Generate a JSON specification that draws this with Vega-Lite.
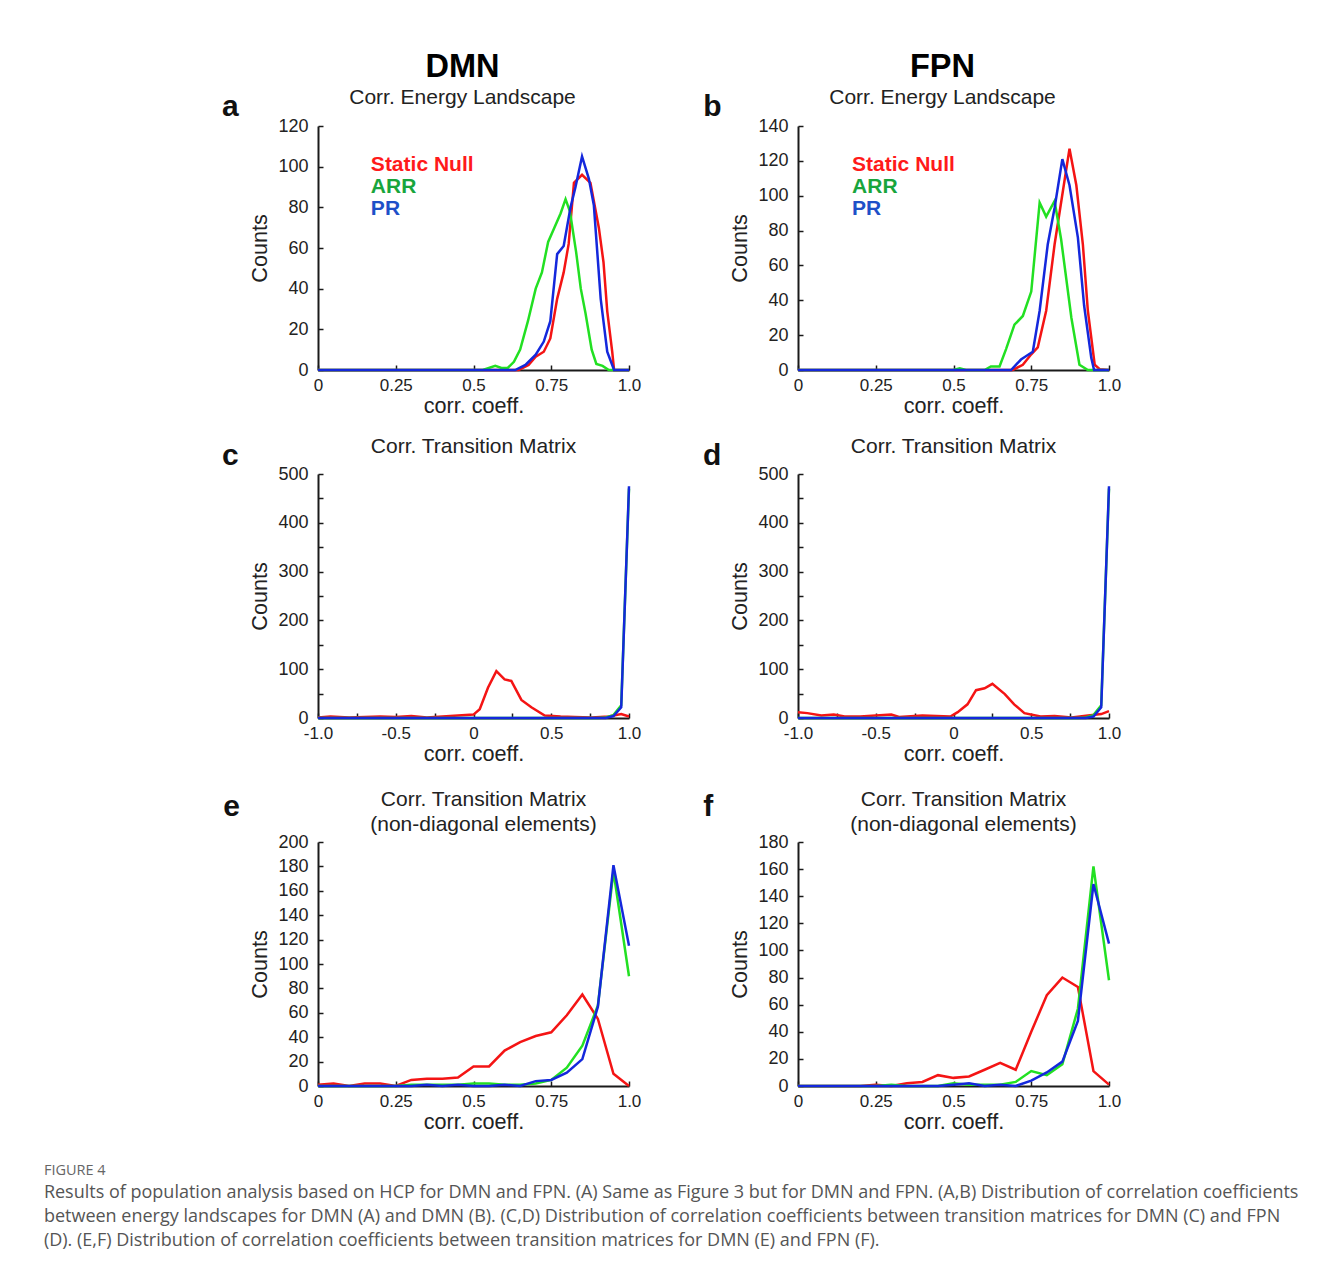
{
  "$schema": "https://vega.github.io/schema/vega-lite/v6.json",
  "background": "white",
  "padding": {"left": 43, "top": 50, "right": 5, "bottom": 5},
  "datasets": {
    "a": [
      {"coef":0,"count":0,"series":"Static Null"},{"coef":0.645,"count":0,"series":"Static Null"},{"coef":0.677,"count":2.5,"series":"Static Null"},{"coef":0.7,"count":6.5,"series":"Static Null"},{"coef":0.726,"count":9,"series":"Static Null"},{"coef":0.747,"count":15.5,"series":"Static Null"},{"coef":0.769,"count":35,"series":"Static Null"},{"coef":0.79,"count":48,"series":"Static Null"},{"coef":0.806,"count":62,"series":"Static Null"},{"coef":0.823,"count":92,"series":"Static Null"},{"coef":0.849,"count":96,"series":"Static Null"},{"coef":0.876,"count":92,"series":"Static Null"},{"coef":0.903,"count":70,"series":"Static Null"},{"coef":0.918,"count":53,"series":"Static Null"},{"coef":0.93,"count":29,"series":"Static Null"},{"coef":0.946,"count":9,"series":"Static Null"},{"coef":0.952,"count":0,"series":"Static Null"},{"coef":1,"count":0,"series":"Static Null"},
      {"coef":0,"count":0,"series":"ARR"},{"coef":0.53,"count":0,"series":"ARR"},{"coef":0.57,"count":2,"series":"ARR"},{"coef":0.59,"count":1,"series":"ARR"},{"coef":0.61,"count":1,"series":"ARR"},{"coef":0.63,"count":4,"series":"ARR"},{"coef":0.65,"count":10,"series":"ARR"},{"coef":0.675,"count":24,"series":"ARR"},{"coef":0.7,"count":40,"series":"ARR"},{"coef":0.72,"count":48,"series":"ARR"},{"coef":0.74,"count":63,"series":"ARR"},{"coef":0.76,"count":70,"series":"ARR"},{"coef":0.78,"count":77,"series":"ARR"},{"coef":0.796,"count":84,"series":"ARR"},{"coef":0.81,"count":78,"series":"ARR"},{"coef":0.83,"count":58,"series":"ARR"},{"coef":0.845,"count":40,"series":"ARR"},{"coef":0.86,"count":28,"series":"ARR"},{"coef":0.88,"count":10,"series":"ARR"},{"coef":0.895,"count":3,"series":"ARR"},{"coef":0.915,"count":2,"series":"ARR"},{"coef":0.935,"count":0,"series":"ARR"},{"coef":1,"count":0,"series":"ARR"},
      {"coef":0,"count":0,"series":"PR"},{"coef":0.634,"count":0,"series":"PR"},{"coef":0.667,"count":2.5,"series":"PR"},{"coef":0.7,"count":7.5,"series":"PR"},{"coef":0.726,"count":14,"series":"PR"},{"coef":0.747,"count":24,"series":"PR"},{"coef":0.769,"count":57,"series":"PR"},{"coef":0.79,"count":61,"series":"PR"},{"coef":0.812,"count":80,"series":"PR"},{"coef":0.828,"count":90,"series":"PR"},{"coef":0.849,"count":105,"series":"PR"},{"coef":0.871,"count":94,"series":"PR"},{"coef":0.887,"count":81,"series":"PR"},{"coef":0.909,"count":35,"series":"PR"},{"coef":0.93,"count":9,"series":"PR"},{"coef":0.952,"count":0,"series":"PR"},{"coef":1,"count":0,"series":"PR"}
    ],
    "b": [
      {"coef":0,"count":0,"series":"Static Null"},{"coef":0.69,"count":0,"series":"Static Null"},{"coef":0.723,"count":3,"series":"Static Null"},{"coef":0.75,"count":9,"series":"Static Null"},{"coef":0.771,"count":13,"series":"Static Null"},{"coef":0.798,"count":34,"series":"Static Null"},{"coef":0.825,"count":72,"series":"Static Null"},{"coef":0.852,"count":103,"series":"Static Null"},{"coef":0.873,"count":127,"series":"Static Null"},{"coef":0.895,"count":106,"series":"Static Null"},{"coef":0.916,"count":72,"series":"Static Null"},{"coef":0.932,"count":34,"series":"Static Null"},{"coef":0.954,"count":3,"series":"Static Null"},{"coef":0.97,"count":0.5,"series":"Static Null"},{"coef":1,"count":0,"series":"Static Null"},
      {"coef":0,"count":0,"series":"ARR"},{"coef":0.5,"count":0,"series":"ARR"},{"coef":0.52,"count":1,"series":"ARR"},{"coef":0.54,"count":0,"series":"ARR"},{"coef":0.6,"count":0,"series":"ARR"},{"coef":0.62,"count":2,"series":"ARR"},{"coef":0.648,"count":2,"series":"ARR"},{"coef":0.669,"count":12,"series":"ARR"},{"coef":0.696,"count":26,"series":"ARR"},{"coef":0.723,"count":31,"series":"ARR"},{"coef":0.75,"count":45,"series":"ARR"},{"coef":0.777,"count":96,"series":"ARR"},{"coef":0.798,"count":88,"series":"ARR"},{"coef":0.825,"count":97,"series":"ARR"},{"coef":0.846,"count":75,"series":"ARR"},{"coef":0.879,"count":30,"series":"ARR"},{"coef":0.905,"count":3,"series":"ARR"},{"coef":0.932,"count":0,"series":"ARR"},{"coef":1,"count":0,"series":"ARR"},
      {"coef":0,"count":0,"series":"PR"},{"coef":0.685,"count":0,"series":"PR"},{"coef":0.717,"count":6,"series":"PR"},{"coef":0.734,"count":8,"series":"PR"},{"coef":0.755,"count":10.5,"series":"PR"},{"coef":0.777,"count":34,"series":"PR"},{"coef":0.803,"count":72,"series":"PR"},{"coef":0.825,"count":93,"series":"PR"},{"coef":0.85,"count":121,"series":"PR"},{"coef":0.873,"count":106,"series":"PR"},{"coef":0.9,"count":76,"series":"PR"},{"coef":0.92,"count":37,"series":"PR"},{"coef":0.943,"count":7,"series":"PR"},{"coef":0.952,"count":0,"series":"PR"},{"coef":1,"count":0,"series":"PR"}
    ],
    "c": [
      {"coef":-1,"count":1,"series":"Static Null"},{"coef":-0.92,"count":3,"series":"Static Null"},{"coef":-0.8,"count":1,"series":"Static Null"},{"coef":-0.6,"count":3,"series":"Static Null"},{"coef":-0.5,"count":2,"series":"Static Null"},{"coef":-0.4,"count":4,"series":"Static Null"},{"coef":-0.3,"count":1,"series":"Static Null"},{"coef":-0.2,"count":3,"series":"Static Null"},{"coef":-0.1,"count":5,"series":"Static Null"},{"coef":0,"count":7,"series":"Static Null"},{"coef":0.04,"count":18,"series":"Static Null"},{"coef":0.093,"count":62,"series":"Static Null"},{"coef":0.147,"count":96,"series":"Static Null"},{"coef":0.2,"count":79,"series":"Static Null"},{"coef":0.243,"count":76,"series":"Static Null"},{"coef":0.308,"count":37,"series":"Static Null"},{"coef":0.372,"count":22,"series":"Static Null"},{"coef":0.458,"count":5,"series":"Static Null"},{"coef":0.56,"count":3,"series":"Static Null"},{"coef":0.65,"count":2,"series":"Static Null"},{"coef":0.76,"count":1,"series":"Static Null"},{"coef":0.87,"count":3,"series":"Static Null"},{"coef":0.95,"count":8,"series":"Static Null"},{"coef":1,"count":3,"series":"Static Null"},
      {"coef":-1,"count":0,"series":"ARR"},{"coef":0.8,"count":0,"series":"ARR"},{"coef":0.85,"count":1,"series":"ARR"},{"coef":0.9,"count":6,"series":"ARR"},{"coef":0.95,"count":26,"series":"ARR"},{"coef":1,"count":470,"series":"ARR"},
      {"coef":-1,"count":0,"series":"PR"},{"coef":0.85,"count":0,"series":"PR"},{"coef":0.9,"count":4,"series":"PR"},{"coef":0.95,"count":22,"series":"PR"},{"coef":1,"count":475,"series":"PR"}
    ],
    "d": [
      {"coef":-1,"count":12,"series":"Static Null"},{"coef":-0.94,"count":10,"series":"Static Null"},{"coef":-0.85,"count":5,"series":"Static Null"},{"coef":-0.77,"count":7,"series":"Static Null"},{"coef":-0.7,"count":3,"series":"Static Null"},{"coef":-0.6,"count":3,"series":"Static Null"},{"coef":-0.4,"count":7,"series":"Static Null"},{"coef":-0.35,"count":2,"series":"Static Null"},{"coef":-0.2,"count":5,"series":"Static Null"},{"coef":-0.02,"count":3,"series":"Static Null"},{"coef":0.027,"count":12,"series":"Static Null"},{"coef":0.09,"count":28,"series":"Static Null"},{"coef":0.145,"count":57,"series":"Static Null"},{"coef":0.2,"count":61,"series":"Static Null"},{"coef":0.25,"count":70,"series":"Static Null"},{"coef":0.33,"count":49,"series":"Static Null"},{"coef":0.39,"count":28,"series":"Static Null"},{"coef":0.456,"count":10,"series":"Static Null"},{"coef":0.56,"count":3,"series":"Static Null"},{"coef":0.65,"count":4,"series":"Static Null"},{"coef":0.76,"count":1,"series":"Static Null"},{"coef":0.865,"count":5,"series":"Static Null"},{"coef":0.95,"count":8,"series":"Static Null"},{"coef":1,"count":14,"series":"Static Null"},
      {"coef":-1,"count":0,"series":"ARR"},{"coef":0.8,"count":0,"series":"ARR"},{"coef":0.85,"count":1,"series":"ARR"},{"coef":0.9,"count":6,"series":"ARR"},{"coef":0.95,"count":26,"series":"ARR"},{"coef":1,"count":470,"series":"ARR"},
      {"coef":-1,"count":0,"series":"PR"},{"coef":0.85,"count":0,"series":"PR"},{"coef":0.9,"count":3,"series":"PR"},{"coef":0.95,"count":22,"series":"PR"},{"coef":1,"count":475,"series":"PR"}
    ],
    "e": [
      {"coef":0,"count":1,"series":"Static Null"},{"coef":0.05,"count":2,"series":"Static Null"},{"coef":0.1,"count":0,"series":"Static Null"},{"coef":0.15,"count":2,"series":"Static Null"},{"coef":0.2,"count":2,"series":"Static Null"},{"coef":0.25,"count":0,"series":"Static Null"},{"coef":0.3,"count":5,"series":"Static Null"},{"coef":0.35,"count":6,"series":"Static Null"},{"coef":0.4,"count":6,"series":"Static Null"},{"coef":0.45,"count":7,"series":"Static Null"},{"coef":0.5,"count":16,"series":"Static Null"},{"coef":0.55,"count":16,"series":"Static Null"},{"coef":0.6,"count":29,"series":"Static Null"},{"coef":0.65,"count":36,"series":"Static Null"},{"coef":0.7,"count":41,"series":"Static Null"},{"coef":0.75,"count":44,"series":"Static Null"},{"coef":0.8,"count":58,"series":"Static Null"},{"coef":0.85,"count":75,"series":"Static Null"},{"coef":0.9,"count":55,"series":"Static Null"},{"coef":0.95,"count":10,"series":"Static Null"},{"coef":1,"count":0,"series":"Static Null"},
      {"coef":0,"count":0,"series":"ARR"},{"coef":0.05,"count":0,"series":"ARR"},{"coef":0.1,"count":0,"series":"ARR"},{"coef":0.15,"count":0,"series":"ARR"},{"coef":0.2,"count":0,"series":"ARR"},{"coef":0.25,"count":0,"series":"ARR"},{"coef":0.3,"count":1,"series":"ARR"},{"coef":0.35,"count":1,"series":"ARR"},{"coef":0.4,"count":1,"series":"ARR"},{"coef":0.45,"count":1,"series":"ARR"},{"coef":0.5,"count":2,"series":"ARR"},{"coef":0.55,"count":2,"series":"ARR"},{"coef":0.6,"count":1,"series":"ARR"},{"coef":0.65,"count":1,"series":"ARR"},{"coef":0.7,"count":2,"series":"ARR"},{"coef":0.75,"count":5,"series":"ARR"},{"coef":0.8,"count":15,"series":"ARR"},{"coef":0.85,"count":33,"series":"ARR"},{"coef":0.9,"count":66,"series":"ARR"},{"coef":0.95,"count":176,"series":"ARR"},{"coef":1,"count":90,"series":"ARR"},
      {"coef":0,"count":0,"series":"PR"},{"coef":0.05,"count":0,"series":"PR"},{"coef":0.1,"count":0,"series":"PR"},{"coef":0.15,"count":0,"series":"PR"},{"coef":0.2,"count":0,"series":"PR"},{"coef":0.25,"count":0,"series":"PR"},{"coef":0.3,"count":0,"series":"PR"},{"coef":0.35,"count":1,"series":"PR"},{"coef":0.4,"count":0,"series":"PR"},{"coef":0.45,"count":1,"series":"PR"},{"coef":0.5,"count":0,"series":"PR"},{"coef":0.55,"count":0,"series":"PR"},{"coef":0.6,"count":1,"series":"PR"},{"coef":0.65,"count":0,"series":"PR"},{"coef":0.7,"count":4,"series":"PR"},{"coef":0.75,"count":5,"series":"PR"},{"coef":0.8,"count":11,"series":"PR"},{"coef":0.85,"count":22,"series":"PR"},{"coef":0.9,"count":65,"series":"PR"},{"coef":0.95,"count":181,"series":"PR"},{"coef":1,"count":115,"series":"PR"}
    ],
    "f": [
      {"coef":0,"count":0,"series":"Static Null"},{"coef":0.05,"count":0,"series":"Static Null"},{"coef":0.1,"count":0,"series":"Static Null"},{"coef":0.15,"count":0,"series":"Static Null"},{"coef":0.2,"count":0,"series":"Static Null"},{"coef":0.25,"count":1,"series":"Static Null"},{"coef":0.3,"count":0,"series":"Static Null"},{"coef":0.35,"count":2,"series":"Static Null"},{"coef":0.4,"count":3,"series":"Static Null"},{"coef":0.45,"count":8,"series":"Static Null"},{"coef":0.5,"count":6,"series":"Static Null"},{"coef":0.55,"count":7,"series":"Static Null"},{"coef":0.6,"count":12,"series":"Static Null"},{"coef":0.65,"count":17,"series":"Static Null"},{"coef":0.7,"count":12,"series":"Static Null"},{"coef":0.75,"count":40,"series":"Static Null"},{"coef":0.8,"count":67,"series":"Static Null"},{"coef":0.85,"count":80,"series":"Static Null"},{"coef":0.9,"count":73,"series":"Static Null"},{"coef":0.95,"count":11,"series":"Static Null"},{"coef":1,"count":1,"series":"Static Null"},
      {"coef":0,"count":0,"series":"ARR"},{"coef":0.05,"count":0,"series":"ARR"},{"coef":0.1,"count":0,"series":"ARR"},{"coef":0.15,"count":0,"series":"ARR"},{"coef":0.2,"count":0,"series":"ARR"},{"coef":0.25,"count":0,"series":"ARR"},{"coef":0.3,"count":1,"series":"ARR"},{"coef":0.35,"count":0,"series":"ARR"},{"coef":0.4,"count":0,"series":"ARR"},{"coef":0.45,"count":0,"series":"ARR"},{"coef":0.5,"count":2,"series":"ARR"},{"coef":0.55,"count":1,"series":"ARR"},{"coef":0.6,"count":1,"series":"ARR"},{"coef":0.65,"count":1,"series":"ARR"},{"coef":0.7,"count":3,"series":"ARR"},{"coef":0.75,"count":11,"series":"ARR"},{"coef":0.8,"count":8,"series":"ARR"},{"coef":0.85,"count":16,"series":"ARR"},{"coef":0.9,"count":57,"series":"ARR"},{"coef":0.95,"count":162,"series":"ARR"},{"coef":1,"count":78,"series":"ARR"},
      {"coef":0,"count":0,"series":"PR"},{"coef":0.05,"count":0,"series":"PR"},{"coef":0.1,"count":0,"series":"PR"},{"coef":0.15,"count":0,"series":"PR"},{"coef":0.2,"count":0,"series":"PR"},{"coef":0.25,"count":0,"series":"PR"},{"coef":0.3,"count":0,"series":"PR"},{"coef":0.35,"count":0,"series":"PR"},{"coef":0.4,"count":0,"series":"PR"},{"coef":0.45,"count":0,"series":"PR"},{"coef":0.5,"count":1,"series":"PR"},{"coef":0.55,"count":2,"series":"PR"},{"coef":0.6,"count":0,"series":"PR"},{"coef":0.65,"count":1,"series":"PR"},{"coef":0.7,"count":0,"series":"PR"},{"coef":0.75,"count":4,"series":"PR"},{"coef":0.8,"count":10,"series":"PR"},{"coef":0.85,"count":18,"series":"PR"},{"coef":0.9,"count":48,"series":"PR"},{"coef":0.95,"count":149,"series":"PR"},{"coef":1,"count":105,"series":"PR"}
    ]
  },
  "title": {
    "text": "FIGURE 4",
    "subtitle": [
      "Results of population analysis based on HCP for DMN and FPN. (A) Same as Figure 3 but for DMN and FPN. (A,B) Distribution of correlation coefficients",
      "between energy landscapes for DMN (A) and DMN (B). (C,D) Distribution of correlation coefficients between transition matrices for DMN (C) and FPN",
      "(D). (E,F) Distribution of correlation coefficients between transition matrices for DMN (E) and FPN (F)."
    ],
    "orient": "bottom",
    "anchor": "start",
    "frame": "bounds",
    "dx": -178,
    "offset": 31,
    "font": "Open Sans",
    "fontSize": 14.5,
    "fontWeight": "normal",
    "color": "#666666",
    "subtitleFont": "Open Sans",
    "subtitleFontSize": 18,
    "subtitleColor": "#555555",
    "subtitleLineHeight": 24,
    "subtitlePadding": 6
  },
  "vconcat": [
    {
      "hconcat": [
        {
          "width": 311, "height": 244,
          "title": {"text": "DMN", "subtitle": "Corr. Energy Landscape", "anchor": "middle", "frame": "group", "dx": -11, "offset": -16, "fontSize": 32.5, "fontWeight": "bold", "color": "#000000", "subtitleFontSize": 21, "subtitleColor": "#222222", "subtitlePadding": 4},
          "resolve": {"axis": {"x": "independent", "y": "independent"}},
          "layer": [
            {
              "data": {"name": "a"},
              "mark": {"type": "line", "strokeWidth": 2.5},
              "encoding": {
                "x": {"field": "coef", "type": "quantitative", "scale": {"domain": [0, 1], "nice": false}, "axis": {"title": "corr. coeff.", "values": [0, 0.25, 0.5, 0.75, 1], "labelOverlap": false, "labelExpr": "datum.value == 1 ? '1.0' : '' + datum.value"}},
                "y": {"field": "count", "type": "quantitative", "scale": {"domain": [0, 120], "nice": false}, "axis": {"title": "Counts", "labelOverlap": false, "values": [0, 20, 40, 60, 80, 100, 120]}},
                "color": {"field": "series", "type": "nominal", "scale": {"domain": ["Static Null", "ARR", "PR"], "range": ["#f41414", "#22e022", "#1428dc"]}, "legend": null}
              }
            },
            {"data": {"values": [{}]}, "mark": {"type": "text", "text": "a", "fontSize": 30, "fontWeight": "bold", "align": "left", "baseline": "alphabetic", "color": "#111111"}, "encoding": {"x": {"datum": -0.309, "type": "quantitative", "axis": null}, "y": {"datum": 124.9, "type": "quantitative", "axis": null}}},
            {"data": {"values": [{}]}, "mark": {"type": "text", "text": "Static Null", "fontSize": 21, "fontWeight": "bold", "align": "left", "baseline": "alphabetic", "color": "#ff1a1a"}, "encoding": {"x": {"datum": 0.17, "type": "quantitative", "axis": null}, "y": {"datum": 98, "type": "quantitative", "axis": null}}},
            {"data": {"values": [{}]}, "mark": {"type": "text", "text": "ARR", "fontSize": 21, "fontWeight": "bold", "align": "left", "baseline": "alphabetic", "color": "#18a53c"}, "encoding": {"x": {"datum": 0.17, "type": "quantitative", "axis": null}, "y": {"datum": 87.2, "type": "quantitative", "axis": null}}},
            {"data": {"values": [{}]}, "mark": {"type": "text", "text": "PR", "fontSize": 21, "fontWeight": "bold", "align": "left", "baseline": "alphabetic", "color": "#1e50c8"}, "encoding": {"x": {"datum": 0.17, "type": "quantitative", "axis": null}, "y": {"datum": 76.2, "type": "quantitative", "axis": null}}}
          ]
        },
        {
          "width": 311, "height": 244,
          "title": {"text": "FPN", "subtitle": "Corr. Energy Landscape", "anchor": "middle", "frame": "group", "dx": -11, "offset": -16, "fontSize": 32.5, "fontWeight": "bold", "color": "#000000", "subtitleFontSize": 21, "subtitleColor": "#222222", "subtitlePadding": 4},
          "resolve": {"axis": {"x": "independent", "y": "independent"}},
          "layer": [
            {
              "data": {"name": "b"},
              "mark": {"type": "line", "strokeWidth": 2.5},
              "encoding": {
                "x": {"field": "coef", "type": "quantitative", "scale": {"domain": [0, 1], "nice": false}, "axis": {"title": "corr. coeff.", "values": [0, 0.25, 0.5, 0.75, 1], "labelOverlap": false, "labelExpr": "datum.value == 1 ? '1.0' : '' + datum.value"}},
                "y": {"field": "count", "type": "quantitative", "scale": {"domain": [0, 140], "nice": false}, "axis": {"title": "Counts", "labelOverlap": false, "values": [0, 20, 40, 60, 80, 100, 120, 140]}},
                "color": {"field": "series", "type": "nominal", "scale": {"domain": ["Static Null", "ARR", "PR"], "range": ["#f41414", "#22e022", "#1428dc"]}, "legend": null}
              }
            },
            {"data": {"values": [{}]}, "mark": {"type": "text", "text": "b", "fontSize": 30, "fontWeight": "bold", "align": "left", "baseline": "alphabetic", "color": "#111111"}, "encoding": {"x": {"datum": -0.305, "type": "quantitative", "axis": null}, "y": {"datum": 145.7, "type": "quantitative", "axis": null}}},
            {"data": {"values": [{}]}, "mark": {"type": "text", "text": "Static Null", "fontSize": 21, "fontWeight": "bold", "align": "left", "baseline": "alphabetic", "color": "#ff1a1a"}, "encoding": {"x": {"datum": 0.174, "type": "quantitative", "axis": null}, "y": {"datum": 114.2, "type": "quantitative", "axis": null}}},
            {"data": {"values": [{}]}, "mark": {"type": "text", "text": "ARR", "fontSize": 21, "fontWeight": "bold", "align": "left", "baseline": "alphabetic", "color": "#18a53c"}, "encoding": {"x": {"datum": 0.174, "type": "quantitative", "axis": null}, "y": {"datum": 101.6, "type": "quantitative", "axis": null}}},
            {"data": {"values": [{}]}, "mark": {"type": "text", "text": "PR", "fontSize": 21, "fontWeight": "bold", "align": "left", "baseline": "alphabetic", "color": "#1e50c8"}, "encoding": {"x": {"datum": 0.174, "type": "quantitative", "axis": null}, "y": {"datum": 88.9, "type": "quantitative", "axis": null}}}
          ]
        }
      ],
      "spacing": 169,
      "bounds": "flush"
    },
    {
      "vconcat": [
        {
          "hconcat": [
            {
              "width": 311, "height": 244,
              "title": {"text": "Corr. Transition Matrix", "anchor": "middle", "frame": "group", "dx": 0, "offset": -16, "fontSize": 21, "fontWeight": "normal", "color": "#222222"},
              "resolve": {"axis": {"x": "independent", "y": "independent"}},
              "layer": [
                {
                  "data": {"name": "c"},
                  "mark": {"type": "line", "strokeWidth": 2.5},
                  "encoding": {
                    "x": {"field": "coef", "type": "quantitative", "scale": {"domain": [-1, 1], "nice": false}, "axis": {"title": "corr. coeff.", "labelOverlap": false, "values": [-1, -0.75, -0.5, -0.25, 0, 0.25, 0.5, 0.75, 1], "labelExpr": "datum.value == 1 ? '1.0' : datum.value == -1 ? '-1.0' : ((datum.value * 2) % 1 == 0 ? '' + datum.value : '')"}},
                    "y": {"field": "count", "type": "quantitative", "scale": {"domain": [0, 500], "nice": false}, "axis": {"title": "Counts", "labelOverlap": false, "values": [0, 50, 100, 150, 200, 250, 300, 350, 400, 450, 500], "labelExpr": "datum.value % 100 == 0 ? '' + datum.value : ''"}},
                    "color": {"field": "series", "type": "nominal", "scale": {"domain": ["Static Null", "ARR", "PR"], "range": ["#f41414", "#22e022", "#1428dc"]}, "legend": null}
                  }
                },
                {"data": {"values": [{}]}, "mark": {"type": "text", "text": "c", "fontSize": 30, "fontWeight": "bold", "align": "left", "baseline": "alphabetic", "color": "#111111"}, "encoding": {"x": {"datum": -1.617, "type": "quantitative", "axis": null}, "y": {"datum": 518.4, "type": "quantitative", "axis": null}}}
              ]
            },
            {
              "width": 311, "height": 244,
              "title": {"text": "Corr. Transition Matrix", "anchor": "middle", "frame": "group", "dx": 0, "offset": -16, "fontSize": 21, "fontWeight": "normal", "color": "#222222"},
              "resolve": {"axis": {"x": "independent", "y": "independent"}},
              "layer": [
                {
                  "data": {"name": "d"},
                  "mark": {"type": "line", "strokeWidth": 2.5},
                  "encoding": {
                    "x": {"field": "coef", "type": "quantitative", "scale": {"domain": [-1, 1], "nice": false}, "axis": {"title": "corr. coeff.", "labelOverlap": false, "values": [-1, -0.75, -0.5, -0.25, 0, 0.25, 0.5, 0.75, 1], "labelExpr": "datum.value == 1 ? '1.0' : datum.value == -1 ? '-1.0' : ((datum.value * 2) % 1 == 0 ? '' + datum.value : '')"}},
                    "y": {"field": "count", "type": "quantitative", "scale": {"domain": [0, 500], "nice": false}, "axis": {"title": "Counts", "labelOverlap": false, "values": [0, 50, 100, 150, 200, 250, 300, 350, 400, 450, 500], "labelExpr": "datum.value % 100 == 0 ? '' + datum.value : ''"}},
                    "color": {"field": "series", "type": "nominal", "scale": {"domain": ["Static Null", "ARR", "PR"], "range": ["#f41414", "#22e022", "#1428dc"]}, "legend": null}
                  }
                },
                {"data": {"values": [{}]}, "mark": {"type": "text", "text": "d", "fontSize": 30, "fontWeight": "bold", "align": "left", "baseline": "alphabetic", "color": "#111111"}, "encoding": {"x": {"datum": -1.611, "type": "quantitative", "axis": null}, "y": {"datum": 518.4, "type": "quantitative", "axis": null}}}
              ]
            }
          ],
          "spacing": 169,
          "bounds": "flush"
        },
        {
          "hconcat": [
            {
              "width": 311, "height": 244,
              "title": {"text": ["Corr. Transition Matrix", "(non-diagonal elements)"], "anchor": "middle", "frame": "group", "dx": 10, "offset": -43, "fontSize": 21, "lineHeight": 25, "fontWeight": "normal", "color": "#222222"},
              "resolve": {"axis": {"x": "independent", "y": "independent"}},
              "layer": [
                {
                  "data": {"name": "e"},
                  "mark": {"type": "line", "strokeWidth": 2.5},
                  "encoding": {
                    "x": {"field": "coef", "type": "quantitative", "scale": {"domain": [0, 1], "nice": false}, "axis": {"title": "corr. coeff.", "labelOverlap": false, "values": [0, 0.25, 0.5, 0.75, 1], "labelExpr": "datum.value == 1 ? '1.0' : '' + datum.value"}},
                    "y": {"field": "count", "type": "quantitative", "scale": {"domain": [0, 200], "nice": false}, "axis": {"title": "Counts", "labelOverlap": false, "values": [0, 20, 40, 60, 80, 100, 120, 140, 160, 180, 200]}},
                    "color": {"field": "series", "type": "nominal", "scale": {"domain": ["Static Null", "ARR", "PR"], "range": ["#f41414", "#22e022", "#1428dc"]}, "legend": null}
                  }
                },
                {"data": {"values": [{}]}, "mark": {"type": "text", "text": "e", "fontSize": 30, "fontWeight": "bold", "align": "left", "baseline": "alphabetic", "color": "#111111"}, "encoding": {"x": {"datum": -0.305, "type": "quantitative", "axis": null}, "y": {"datum": 221.3, "type": "quantitative", "axis": null}}}
              ]
            },
            {
              "width": 311, "height": 244,
              "title": {"text": ["Corr. Transition Matrix", "(non-diagonal elements)"], "anchor": "middle", "frame": "group", "dx": 10, "offset": -43, "fontSize": 21, "lineHeight": 25, "fontWeight": "normal", "color": "#222222"},
              "resolve": {"axis": {"x": "independent", "y": "independent"}},
              "layer": [
                {
                  "data": {"name": "f"},
                  "mark": {"type": "line", "strokeWidth": 2.5},
                  "encoding": {
                    "x": {"field": "coef", "type": "quantitative", "scale": {"domain": [0, 1], "nice": false}, "axis": {"title": "corr. coeff.", "labelOverlap": false, "values": [0, 0.25, 0.5, 0.75, 1], "labelExpr": "datum.value == 1 ? '1.0' : '' + datum.value"}},
                    "y": {"field": "count", "type": "quantitative", "scale": {"domain": [0, 180], "nice": false}, "axis": {"title": "Counts", "labelOverlap": false, "values": [0, 20, 40, 60, 80, 100, 120, 140, 160, 180]}},
                    "color": {"field": "series", "type": "nominal", "scale": {"domain": ["Static Null", "ARR", "PR"], "range": ["#f41414", "#22e022", "#1428dc"]}, "legend": null}
                  }
                },
                {"data": {"values": [{}]}, "mark": {"type": "text", "text": "f", "fontSize": 30, "fontWeight": "bold", "align": "left", "baseline": "alphabetic", "color": "#111111"}, "encoding": {"x": {"datum": -0.305, "type": "quantitative", "axis": null}, "y": {"datum": 199.2, "type": "quantitative", "axis": null}}}
              ]
            }
          ],
          "spacing": 169,
          "bounds": "flush"
        }
      ],
      "spacing": 23
    }
  ],
  "spacing": 19,
  "config": {
    "view": {"stroke": null},
    "font": "Liberation Sans",
    "text": {"font": "Liberation Sans"},
    "title": {"font": "Liberation Sans", "subtitleFont": "Liberation Sans"},
    "axis": {
      "grid": false,
      "domainColor": "#1a1a1a",
      "domainWidth": 2,
      "tickColor": "#1a1a1a",
      "tickWidth": 1.5,
      "tickSize": -5,
      "labelFont": "Liberation Sans",
      "labelFontSize": 17,
      "labelColor": "#222222",
      "labelFlush": false,
      "labelOverlap": false,
      "titleFont": "Liberation Sans",
      "titleFontSize": 21.6,
      "titleFontWeight": "normal",
      "titleColor": "#222222"
    },
    "axisX": {"labelPadding": 12, "titlePadding": 2},
    "axisY": {"labelPadding": 15, "titlePadding": 6, "labelFontSize": 18}
  }
}
